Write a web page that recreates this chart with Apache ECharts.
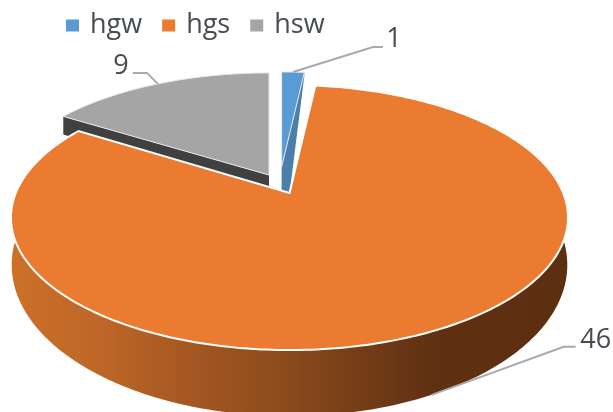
<!DOCTYPE html>
<html>
<head>
<meta charset="utf-8">
<style>html,body{margin:0;padding:0;background:#fff}#chart{width:613px;height:412px}</style>
<script src="https://cdn.jsdelivr.net/npm/echarts@6/dist/echarts.min.js"></script>
</head>
<body>
<div id="chart"></div>
<script>
// Slice data
const categories = ['hgw', 'hgs', 'hsw'];
const values = [1, 46, 9];
const colors = ['#5b9bd5', '#ea7b30', '#a5a5a5'];
const wallColors = ['#4a7eab', '#8a4a1c', '#404040'];
const TEXT = '#474c52';
const LEADER = '#a9a9a9';
const FONT = '"Open Sans", Lato, sans-serif';

// Perspective disc: apex of the pie, horizontal/vertical radii and foreshortening
const CX = 289.5, CY = 193, RX = 273.7, RY = 128, K = 0.185;
// Base disc of the large slice, drawn further down and slightly deeper
const BASE_CY = 237, BASE_RX = 273, BASE_RY = 146;

const total = values.reduce((a, b) => a + b, 0);
const startFrac = categories.map((_, i) => values.slice(0, i).reduce((a, b) => a + b, 0) / total);
const endFrac = categories.map((_, i) => startFrac[i] + values[i] / total);

// Exploded slices keep their own offset and scale around the apex
const layout = {
  hgw: { dx: -7.9, dy: -26, sx: 0.88, sy: 0.88, apexDrop: [8, 26], rimDrop: [0, 3] },
  hgs: { dx: 0, dy: 0, sx: 1, sy: 1 },
  hsw: { dx: -20.5, dy: -18, sx: 0.975, sy: 0.945, apexDrop: [0, 22], rimDrop: [0, 18] }
};

// Label anchors: text position relative to the leader's end
const leaders = {
  hgw: { mid: [80, -25], end: [90, -25], text: [101, -33], rimBase: false },
  hsw: { mid: [-11, -11], end: [-25, -11], text: [-37, -18], rimBase: false },
  hgs: { mid: [132, -48], end: [144, -48], text: [164, -55], rimBase: true }
};

function project(angle, cx, cy, rx, ry) {
  const u = Math.sin(angle), f = Math.cos(angle), w = 1 + K * f;
  return [cx + rx * u / w, cy - ry * f / w];
}
const rimPoint = (angle, l) => {
  const p = project(angle, 0, 0, RX, RY);
  return [CX + l.dx + p[0] * l.sx, CY + l.dy + p[1] * l.sy];
};
const basePoint = angle => project(angle, CX, BASE_CY, BASE_RX, BASE_RY);

function arc(a0, a1, fn) {
  const n = Math.max(2, Math.ceil(Math.abs(a1 - a0) * 60));
  const pts = [];
  for (let i = 0; i <= n; i++) pts.push(fn(a0 + (a1 - a0) * i / n));
  return pts;
}

const renderSlice = idx => () => {
  const name = categories[idx];
  const l = layout[name];
  const a0 = startFrac[idx] * 2 * Math.PI, a1 = endFrac[idx] * 2 * Math.PI;
  const apex = [CX + l.dx, CY + l.dy];
  const rim = arc(a0, a1, a => rimPoint(a, l));
  const children = [];

  if (name === 'hgs') {
    // Outer wall between the rim and the base disc, shaded from left to right
    const wall = rim.concat(arc(a1, a0, basePoint));
    children.push({
      type: 'polygon', shape: { points: wall },
      style: {
        fill: {
          type: 'linear', global: true, x: 15, y: 0, x2: 565, y2: 0,
          colorStops: [
            { offset: 0, color: '#cc7029' }, { offset: 0.16, color: '#bd6627' },
            { offset: 0.33, color: '#a35621' }, { offset: 0.5, color: '#8a4a1c' },
            { offset: 0.7, color: '#693614' }, { offset: 0.76, color: '#5f3011' },
            { offset: 1, color: '#5c2f10' }
          ]
        }
      }
    });
  } else {
    // Radial cut face of an exploded slice
    const edge = name === 'hgw' ? rimPoint(a1, l) : rimPoint(a0, l);
    const d = l.apexDrop, r = l.rimDrop;
    const face = [edge, apex, [apex[0], apex[1] + d[1] + 4], [apex[0] + d[0], apex[1] + d[1]], [edge[0] + r[0], edge[1] + r[1]]];
    children.push({ type: 'polygon', shape: { points: face }, style: { fill: wallColors[idx] } });
  }

  children.push({
    type: 'polygon', shape: { points: [apex].concat(rim) },
    style: { fill: colors[idx], stroke: name === 'hgs' ? '#ffffff' : '#e8e8e8', lineWidth: name === 'hgs' ? 2 : 1, lineJoin: 'miter' }
  });

  // Leader line and value label, anchored at the middle of the slice's arc
  const mid = (a0 + a1) / 2;
  const lead = leaders[name];
  const p = lead.rimBase ? basePoint(mid) : rimPoint(mid, l);
  children.push({
    type: 'polyline',
    shape: { points: [p, [p[0] + lead.mid[0], p[1] + lead.mid[1]], [p[0] + lead.end[0], p[1] + lead.end[1]]] },
    style: { fill: 'none', stroke: LEADER, lineWidth: 2 }
  });
  children.push({
    type: 'text',
    style: {
      text: String(values[idx]), x: p[0] + lead.text[0], y: p[1] + lead.text[1],
      fill: TEXT, font: '27px ' + FONT, align: 'center', verticalAlign: 'middle'
    }
  });
  return { type: 'group', children };
};

// The large slice is painted last so it sits in front of the exploded ones
const drawOrder = [2, 0, 1];

const chart = echarts.init(document.getElementById('chart'), null, { renderer: 'canvas' });
chart.setOption({
  animation: false,
  backgroundColor: '#ffffff',
  legend: {
    data: categories, left: 61, top: 7, icon: 'rect',
    itemWidth: 13, itemHeight: 12, itemGap: 20,
    selectedMode: false,
    textStyle: { fontFamily: FONT, fontSize: 27, color: TEXT, padding: [0, 0, 0, 6] }
  },
  series: drawOrder.map(i => ({
    type: 'custom', name: categories[i], coordinateSystem: 'none', silent: true,
    itemStyle: { color: colors[i] },
    data: [[values[i]]],
    renderItem: renderSlice(i)
  }))
});
</script>
</body>
</html>
